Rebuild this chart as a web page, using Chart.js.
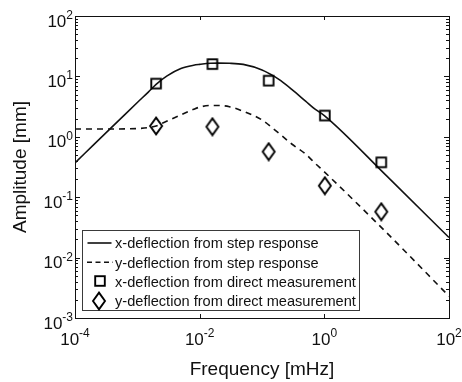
<!DOCTYPE html>
<html>
<head>
<meta charset="utf-8">
<script src="https://cdn.jsdelivr.net/npm/chart.js@4.4.1/dist/chart.umd.min.js"></script>
<style>
  html, body { margin: 0; padding: 0; background: #fff; }
</style>
</head>
<body>
<canvas id="ampChart" width="462" height="382"></canvas>
<script>
// frequency grid (mHz)
const freqCurve = [1e-4, 2e-4, 5e-4, 1e-3, 1.5e-3, 2e-3, 3e-3, 5e-3, 8e-3, 1e-2, 1.5e-2, 2e-2, 3e-2, 5e-2, 0.1, 0.16, 0.2, 0.3, 0.5, 0.7, 1, 10, 100];
const xStep = [0.37, 0.74, 1.85, 3.7, 5.5, 7.4, 10.2, 13.5, 15.3, 15.8, 16.5, 16.6, 16.5, 15.8, 12.8, 9.9, 8.5, 6.1, 3.9, 2.9, 2.25, 0.225, 0.0215];
const yStep = [1.35, 1.35, 1.35, 1.37, 1.42, 1.51, 1.82, 2.3, 2.85, 3.1, 3.3, 3.3, 3.15, 2.65, 1.9, 1.3, 1.08, 0.76, 0.52, 0.37, 0.263, 0.0258, 0.0023];

// direct measurements
const freqMeas = [0.002, 0.016, 0.128, 1.02, 8.2];
const xMeas = [7.6, 16.0, 8.5, 2.25, 0.378];
const yMeas = [1.51, 1.47, 0.567, 0.155, 0.0575];

// axis ticks
const xTickExp = [-4, -2, 0, 2];
const yTickExp = [-3, -2, -1, 0, 1, 2];

const labels = [
    "x-deflection from step response",
    "y-deflection from step response",
    "x-deflection from direct measurement",
    "y-deflection from direct measurement"
];

const FONT = '"Liberation Sans", Arial, Helvetica, sans-serif';
const INK = "#111";

function pts(xs, ys) {
    return xs.map((x, i) => ({ x: x, y: ys[i] }));
}

// marker images (matlab style square and tall diamond)
function squareMarker() {
    const c = document.createElement("canvas");
    c.width = 14; c.height = 14;
    const g = c.getContext("2d");
    g.strokeStyle = "#000";
    g.lineWidth = 1.9;
    g.strokeRect(2.2, 2.2, 9.6, 9.6);
    return c;
}
function diamondMarker() {
    const c = document.createElement("canvas");
    c.width = 16; c.height = 20;
    const g = c.getContext("2d");
    g.strokeStyle = "#000";
    g.lineWidth = 1.9;
    g.beginPath();
    g.moveTo(8, 1.6);
    g.lineTo(14, 10);
    g.lineTo(8, 18.4);
    g.lineTo(2, 10);
    g.closePath();
    g.stroke();
    return c;
}
const sqImg = squareMarker();
const diaImg = diamondMarker();

function drawPow(ctx, exp, x, y, align, supDy) {
    ctx.font = "17px " + FONT;
    const wb = ctx.measureText("10").width;
    ctx.font = "12px " + FONT;
    const sup = String(exp);
    const ws = ctx.measureText(sup).width;
    const total = wb + ws;
    let x0 = align === "right" ? x - total : x - total / 2;
    ctx.textAlign = "left";
    ctx.textBaseline = "alphabetic";
    ctx.font = "17px " + FONT;
    ctx.fillText("10", x0, y);
    ctx.font = "12px " + FONT;
    ctx.fillText(sup, x0 + wb, y + supDy);
}

const frame = {
    id: "frame",
    beforeDraw(chart) {
        const ctx = chart.ctx;
        ctx.save();
        ctx.fillStyle = "#fff";
        ctx.fillRect(0, 0, chart.width, chart.height);
        ctx.restore();
    },
    afterDraw(chart) {
        const ctx = chart.ctx;
        const a = chart.chartArea;
        const xs = chart.scales.x, ys = chart.scales.y;
        ctx.save();
        ctx.strokeStyle = INK;
        ctx.lineWidth = 1;

        // ticks, inside, on all four sides
        ctx.beginPath();
        yTickExp.forEach(n => {
            const py = Math.round(ys.getPixelForValue(Math.pow(10, n))) + 0.5;
            ctx.moveTo(a.left, py); ctx.lineTo(a.left + 5, py);
            ctx.moveTo(a.right, py); ctx.lineTo(a.right - 5, py);
            if (n < 2) {
                for (let k = 2; k <= 9; k++) {
                    const my = Math.round(ys.getPixelForValue(k * Math.pow(10, n))) + 0.5;
                    ctx.moveTo(a.left, my); ctx.lineTo(a.left + 3, my);
                    ctx.moveTo(a.right, my); ctx.lineTo(a.right - 3, my);
                }
            }
        });
        xTickExp.forEach(n => {
            const px = Math.round(xs.getPixelForValue(Math.pow(10, n))) + 0.5;
            ctx.moveTo(px, a.bottom); ctx.lineTo(px, a.bottom - 4);
            ctx.moveTo(px, a.top); ctx.lineTo(px, a.top + 4);
        });
        ctx.stroke();

        // box
        ctx.strokeRect(Math.round(a.left) + 0.5, Math.round(a.top) + 0.5,
            Math.round(a.right - a.left), Math.round(a.bottom - a.top));

        // tick labels
        ctx.fillStyle = INK;
        yTickExp.forEach(n => {
            const py = ys.getPixelForValue(Math.pow(10, n));
            drawPow(ctx, n, a.left - 2, py + 10.5, "right", -7.5);
        });
        xTickExp.forEach(n => {
            const px = xs.getPixelForValue(Math.pow(10, n));
            drawPow(ctx, n, px, a.bottom + 27, "center", -8.5);
        });

        // axis titles
        ctx.font = "19px " + FONT;
        ctx.textAlign = "center";
        ctx.textBaseline = "alphabetic";
        ctx.fillText("Frequency [mHz]", (a.left + a.right) / 2, 375);
        ctx.save();
        ctx.translate(25.5, (a.top + a.bottom) / 2);
        ctx.rotate(-Math.PI / 2);
        ctx.fillText("Amplitude [mm]", 0, 0);
        ctx.restore();

        // legend
        ctx.fillStyle = "#fff";
        ctx.fillRect(83, 231, 276, 79);
        ctx.strokeStyle = "#3a3a3a";
        ctx.lineWidth = 1;
        ctx.strokeRect(82.5, 230.5, 277, 80);
        const rows = [243, 262.3, 281.3, 300.5];
        ctx.strokeStyle = INK;
        ctx.lineWidth = 1.6;
        ctx.beginPath();
        ctx.moveTo(87.5, rows[0]); ctx.lineTo(111.5, rows[0]);
        ctx.stroke();
        ctx.setLineDash([5, 3.5]);
        ctx.beginPath();
        ctx.moveTo(87, rows[1]); ctx.lineTo(113, rows[1]);
        ctx.stroke();
        ctx.setLineDash([]);
        ctx.drawImage(sqImg, 93, Math.round(rows[2]) - 7);
        ctx.drawImage(diaImg, 91, Math.round(rows[3]) - 10);
        ctx.fillStyle = INK;
        ctx.font = "14.6px " + FONT;
        ctx.textAlign = "left";
        labels.forEach((t, i) => ctx.fillText(t, 115, rows[i] + 5.3));
        ctx.restore();
    }
};

new Chart(document.getElementById("ampChart"), {
    type: "scatter",
    data: {
        datasets: [
            {
                label: labels[2],
                data: pts(freqMeas, xMeas),
                pointStyle: sqImg,
                showLine: false
            },
            {
                label: labels[3],
                data: pts(freqMeas, yMeas),
                pointStyle: diaImg,
                showLine: false
            },
            {
                label: labels[0],
                data: pts(freqCurve, xStep),
                showLine: true,
                borderColor: INK,
                borderWidth: 1.6,
                pointRadius: 0,
                cubicInterpolationMode: "monotone"
            },
            {
                label: labels[1],
                data: pts(freqCurve, yStep),
                showLine: true,
                borderColor: INK,
                borderWidth: 1.6,
                borderDash: [6, 5],
                pointRadius: 0,
                cubicInterpolationMode: "monotone"
            }
        ]
    },
    options: {
        responsive: false,
        devicePixelRatio: 1,
        animation: false,
        layout: { padding: { left: 75, top: 16, right: 13, bottom: 64 } },
        plugins: { legend: { display: false }, tooltip: { enabled: false } },
        scales: {
            x: { type: "logarithmic", min: 1e-4, max: 100, display: false },
            y: { type: "logarithmic", min: 1e-3, max: 100, display: false }
        }
    },
    plugins: [frame]
});
</script>
</body>
</html>
